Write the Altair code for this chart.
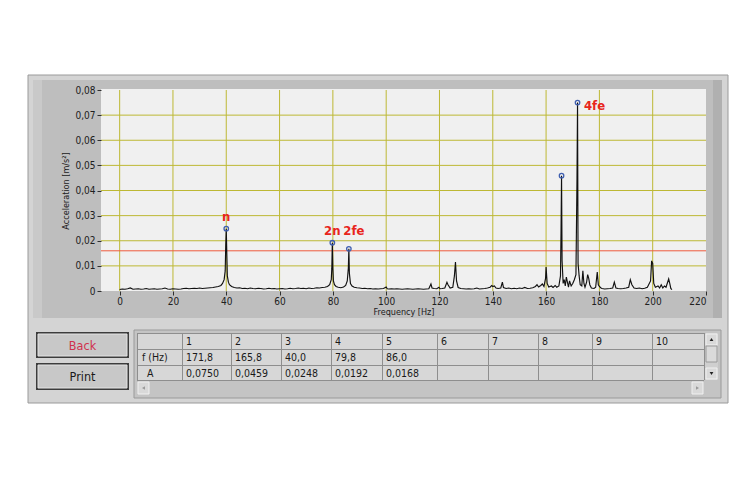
import altair as alt
import pandas as pd

# ---------------- data ----------------
freq = [0, 1, 2, 3, 4, 5, 6, 7, 8, 9, 10, 11, 12, 13, 14, 15, 16, 17, 18, 19,
        20, 21, 22, 23, 24, 25, 26, 27, 28, 29, 30, 31, 32, 33, 34, 35, 36, 37, 38, 38.6,
        39.2, 39.6, 39.8, 40.0, 40.2, 40.4, 40.8, 41.2, 42, 43, 44, 45, 46, 47, 48, 49,
        50, 51, 52, 53, 54, 55, 56, 57, 58, 59, 60, 61, 62, 63, 64, 65, 66, 67, 68, 69,
        70, 71, 72, 73, 74, 75, 76, 77, 78, 78.8, 79.4, 79.6, 79.8, 80.0, 80.2, 80.6, 81.2,
        82, 83, 84, 84.8, 85.4, 85.8, 86.0, 86.2, 86.6, 87.2, 88, 89, 90, 91, 92, 93, 94,
        95, 96, 97, 98, 99, 100, 100.4, 101, 102, 103, 104, 105, 106, 107, 108, 109, 110,
        111, 112, 113, 114, 115, 116, 116.8, 117.2, 118, 119, 119.8, 120.2, 121, 122, 122.8,
        123.2, 124, 125, 125.6, 126.0, 126.4, 127, 128, 129, 130, 131, 132, 133, 134, 135,
        136, 137, 138, 139, 139.6, 140, 140.6, 141.2, 142, 143, 143.6, 144, 145, 146, 147,
        148, 149, 150, 151, 152, 153, 154, 155, 156, 156.6, 157.2, 158, 158.6, 159.2, 159.8,
        160.0, 160.4, 161, 162, 162.6, 163.4, 164, 164.8, 165.4, 165.6, 165.8, 166.0, 166.4,
        166.8, 167.2, 167.6, 168.0, 168.4, 168.8, 169.4, 170, 170.6, 171.2, 171.6, 171.8,
        172.0, 172.4, 172.8, 173.4, 173.8, 174.2, 174.6, 175.2, 175.6, 176, 176.4, 177, 178,
        178.6, 179.2, 179.6, 180, 180.6, 181, 182, 183, 184, 185, 185.6, 186.2, 187, 188,
        189, 190, 191, 191.6, 192.2, 193, 194, 195, 196, 197, 198, 199.2, 199.6, 200.0,
        200.4, 201, 202, 202.6, 203.2, 203.8, 204.4, 205, 205.6, 206.0, 206.4, 206.8, 207.2]
amp_e4 = [6, 8, 7, 9, 12, 7, 8, 9, 7, 8, 10, 7, 8, 9, 7, 8, 9, 12, 8, 7,
          9, 8, 7, 8, 10, 11, 9, 10, 11, 10, 12, 10, 11, 12, 13, 14, 16, 18, 22, 30,
          45, 80, 180, 248, 150, 60, 35, 25, 18, 14, 12, 13, 10, 11, 9, 12,
          10, 9, 11, 10, 8, 9, 11, 9, 10, 8, 9, 10, 8, 9, 11, 9, 10, 12, 10, 11,
          9, 12, 10, 11, 13, 12, 14, 15, 18, 25, 45, 90, 192, 90, 40, 25, 18,
          15, 13, 16, 22, 40, 90, 168, 70, 30, 20, 15, 13, 12, 10, 11, 9, 10,
          8, 9, 8, 9, 10, 16, 9, 8, 9, 8, 9, 8, 7, 8, 9, 8, 7,
          8, 9, 8, 7, 8, 9, 28, 12, 10, 9, 15, 9, 10, 12, 35,
          25, 12, 15, 60, 115, 40, 14, 10, 9, 8, 9, 8, 9, 12, 8,
          9, 10, 12, 15, 22, 18, 20, 12, 10, 12, 35, 14, 10, 12, 9,
          11, 9, 12, 10, 14, 10, 11, 13, 18, 25, 16, 22, 28, 18, 50,
          95, 30, 16, 20, 14, 22, 15, 20, 60, 230, 459, 120, 30,
          45, 20, 55, 35, 15, 40, 20, 30, 45, 65, 450, 750,
          110, 60, 25, 20, 80, 30, 15, 35, 65, 50, 25, 12, 10,
          15, 75, 25, 18, 12, 10, 8, 9, 10, 12, 35, 12, 10, 9,
          10, 12, 15, 45, 25, 12, 10, 12, 9, 11, 15, 40, 120, 110,
          30, 15, 20, 12, 25, 12, 20, 15, 35, 48, 30, 10, 5]

peak_freq = [171.8, 165.8, 40.0, 79.8, 86.0]
peak_amp = [0.0750, 0.0459, 0.0248, 0.0192, 0.0168]
peak_names = ["4fe", "", "n", "2n", "2fe"]
threshold = 0.016

x_ticks = [0, 20, 40, 60, 80, 100, 120, 140, 160, 180, 200, 220]
y_ticks = [0, 0.01, 0.02, 0.03, 0.04, 0.05, 0.06, 0.07, 0.08]

col_headers = ["", "1", "2", "3", "4", "5", "6", "7", "8", "9", "10"]
row_labels = ["f (Hz)", "A"]

# ---------------- layout ----------------
OX, OY = 101, 90          # page position of plot origin
W, H = 605, 201
FONT = "DejaVu Sans Condensed, Liberation Sans, sans-serif"


def px(x):
    return x - OX


def py(y):
    return y - OY


one = alt.Data(values=[{}])


def rect(x1, y1, x2, y2, fill, stroke=None, sw=1):
    kw = dict(fill=fill)
    if stroke:
        kw.update(stroke=stroke, strokeWidth=sw)
    else:
        kw.update(strokeWidth=0)
    return alt.Chart(one).mark_rect(**kw).encode(
        x=alt.value(px(x1)), x2=alt.value(px(x2)),
        y=alt.value(py(y1)), y2=alt.value(py(y2)))


def label(txt, x, y, size=10.5, color="#1a1a1a", align="left", weight="normal"):
    return alt.Chart(alt.Data(values=[{"t": txt}])).mark_text(
        font=FONT, fontSize=size, color=color, align=align, baseline="middle",
        fontWeight=weight).encode(
        x=alt.value(px(x)), y=alt.value(py(y)), text="t:N")


def tri(x, y, shape, color="#202020", size=18):
    return alt.Chart(one).mark_point(shape=shape, filled=True, color=color,
                                     size=size, opacity=1).encode(
        x=alt.value(px(x)), y=alt.value(py(y)))


xs = alt.Scale(domain=[-7, 220], nice=False, zero=False)
ys = alt.Scale(domain=[0, 0.08], nice=False, zero=True)

x_axis = alt.Axis(values=x_ticks, grid=False, domain=False, ticks=True, tickSize=4,
                  tickColor="#303030", labelColor="#202020", labelFont=FONT,
                  labelFontSize=10, labelPadding=1, title="Frequency [Hz]",
                  titleFont=FONT, titleFontSize=9, titleFontWeight="normal",
                  titleColor="#202020", titlePadding=1, zindex=1)
y_axis = alt.Axis(values=y_ticks, grid=False, domain=False, ticks=True, tickSize=4,
                  tickColor="#303030", labelColor="#202020", labelFont=FONT,
                  labelFontSize=10, labelPadding=2,
                  labelExpr="datum.value == 0 ? '0' : replace(format(datum.value, '.2f'), '.', ',')",
                  title="Acceleration [m/s²]", titleFont=FONT, titleFontSize=9,
                  titleFontWeight="normal", titleColor="#202020", titlePadding=4, zindex=1)

# ---------------- frame decorations ----------------
layers = [
    rect(28, 75, 728, 403, "#d4d4d4", "#9a9a9a"),
    rect(33, 80, 722, 318, "#bebebe"),
    rect(33, 80, 42, 318, "#c9c9c9"),
    rect(713, 80, 722, 318, "#b0b0b0"),
    rect(101, 89, 706, 291, "#f0f0f0"),
]

# grid
spec_df = pd.DataFrame({"f": freq, "a": [v / 10000 for v in amp_e4]})
gx = pd.DataFrame({"v": [t for t in x_ticks if t < 220]})
gy = pd.DataFrame({"v": [t for t in y_ticks if 0 < t < 0.08]})
layers.append(alt.Chart(gx).mark_rule(color="#bdb834", strokeWidth=1).encode(
    x=alt.X("v:Q", scale=xs, axis=x_axis)))
layers.append(alt.Chart(gy).mark_rule(color="#bdb834", strokeWidth=1).encode(
    y=alt.Y("v:Q", scale=ys, axis=y_axis)))

# threshold
layers.append(alt.Chart(pd.DataFrame({"v": [threshold]})).mark_rule(
    color="#ee5a3c", strokeWidth=1).encode(y=alt.Y("v:Q", scale=ys, axis=y_axis)))

# spectrum
layers.append(alt.Chart(spec_df).mark_line(color="#111111", strokeWidth=1.15,
                                           interpolate="linear").encode(
    x=alt.X("f:Q", scale=xs, axis=x_axis),
    y=alt.Y("a:Q", scale=ys, axis=y_axis)))

peaks_df = pd.DataFrame({"f": peak_freq, "a": peak_amp, "name": peak_names})
layers.append(alt.Chart(peaks_df).mark_point(shape="circle", filled=False,
                                             color="#3f5fb0", size=20,
                                             strokeWidth=1.3, opacity=1).encode(
    x=alt.X("f:Q", scale=xs, axis=x_axis),
    y=alt.Y("a:Q", scale=ys, axis=y_axis)))

offsets = {"n": (0, -12), "2n": (0, -12), "2fe": (5, -18), "4fe": (17, 3)}
for nm, (dx, dy) in offsets.items():
    layers.append(alt.Chart(peaks_df).transform_filter(
        alt.datum.name == nm).mark_text(
        font=FONT, fontSize=13, fontWeight="bold", color="#e8251c",
        dx=dx, dy=dy, align="center", baseline="middle").encode(
        x=alt.X("f:Q", scale=xs, axis=x_axis),
        y=alt.Y("a:Q", scale=ys, axis=y_axis),
        text="name:N"))

# ---------------- buttons ----------------
for (y1, y2, txt, col) in [(332, 358, "Back", "#d0304e"), (363, 390, "Print", "#1a1a1a")]:
    layers.append(rect(36, y1, 129, y2, "#3c3c3c"))
    layers.append(rect(38, y1 + 2, 127, y2 - 2, "#c8c8c8", "#e4e4e4"))
    layers.append(label(txt, 82.5, (y1 + y2) / 2 + 0.5, size=12.5, color=col, align="center"))

# ---------------- table ----------------
col_edges = [137, 182, 231, 281, 331, 382, 437, 488, 538, 592, 652, 704]
row_edges = [333, 349, 365, 380]
layers.append(rect(134, 330, 721, 398, "#c4c4c4", "#9a9a9a"))
layers.append(rect(col_edges[0], row_edges[0], col_edges[-1], row_edges[-1], "#d7d7d7"))
for xe in col_edges:
    layers.append(rect(xe, row_edges[0], xe + 1, row_edges[-1], "#8e8e8e"))
for ye in row_edges:
    layers.append(rect(col_edges[0], ye, col_edges[-1], ye + 1, "#8e8e8e"))

for i, h in enumerate(col_headers):
    if h:
        layers.append(label(h, col_edges[i] + 4, (row_edges[0] + row_edges[1]) / 2 + 1))
layers.append(label(row_labels[0], 142, (row_edges[1] + row_edges[2]) / 2 + 1))
layers.append(label(row_labels[1], 147, (row_edges[2] + row_edges[3]) / 2 + 1))
for i in range(len(peak_freq)):
    ftxt = f"{peak_freq[i]:.1f}".replace(".", ",")
    atxt = f"{peak_amp[i]:.4f}".replace(".", ",")
    layers.append(label(ftxt, col_edges[i + 1] + 4, (row_edges[1] + row_edges[2]) / 2 + 1))
    layers.append(label(atxt, col_edges[i + 1] + 4, (row_edges[2] + row_edges[3]) / 2 + 1))

# scrollbars
layers.append(rect(705, 333, 718, 380, "#cfcfcf"))
layers.append(rect(706, 334, 717, 345, "#d9d9d9", "#f0f0f0"))
layers.append(tri(711.5, 339.5, "triangle-up", size=14))
layers.append(rect(706, 346, 717, 362, "#dadada", "#9a9a9a"))
layers.append(rect(706, 368, 717, 379, "#d9d9d9", "#f0f0f0"))
layers.append(tri(711.5, 373.5, "triangle-down", size=14))
layers.append(rect(138, 382, 149, 394, "#d9d9d9", "#f0f0f0"))
layers.append(tri(143.5, 388, "triangle-left", color="#9a9a9a", size=12))
layers.append(rect(692, 382, 703, 394, "#d9d9d9", "#f0f0f0"))
layers.append(tri(697.5, 388, "triangle-right", color="#9a9a9a", size=12))

chart = alt.layer(*layers).properties(
    width=W, height=H,
    autosize=alt.AutoSizeParams(type="none"),
    padding={"left": OX - 8, "top": OY - 8, "right": 40, "bottom": 180},
    background="white",
).configure_view(strokeWidth=0)

chart.save("out.html", embed_options={"renderer": "svg", "actions": False})
